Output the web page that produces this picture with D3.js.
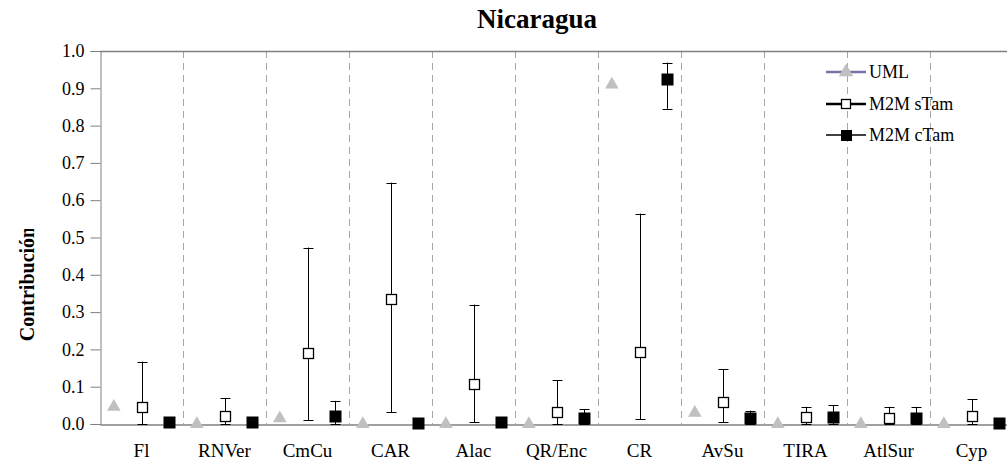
<!DOCTYPE html>
<html>
<head>
<meta charset="utf-8">
<script src="https://cdn.jsdelivr.net/npm/d3@7"></script>
<style>
    body { margin: 0; background: #fff; }
    svg { display: block; font-family: "Liberation Serif", "Times New Roman", serif; }
</style>
</head>
<body>
<div id="chart"></div>
<script>
// categories along the x axis
const categories = ["Fl", "RNVer", "CmCu", "CAR", "Alac", "QR/Enc", "CR", "AvSu", "TIRA", "AtlSur", "Cyp"];

// UML (triangles, no error bars)
const umlValues = [0.046, 0.0, 0.015, 0.0, 0.0, 0.0, 0.91, 0.03, 0.0, 0.0, 0.0];

// M2M sTam (open squares) value, lower and upper bar
const sTamValues = [0.045, 0.022, 0.19, 0.335, 0.106, 0.033, 0.192, 0.06, 0.018, 0.015, 0.022];
const sTamLow    = [0.0, 0.0, 0.01, 0.031, 0.005, 0.0, 0.013, 0.005, 0.0, 0.0, 0.0];
const sTamHigh   = [0.167, 0.069, 0.473, 0.647, 0.32, 0.118, 0.564, 0.147, 0.046, 0.046, 0.066];

// M2M cTam (filled squares) value, lower and upper bar
const cTamValues = [0.005, 0.005, 0.022, 0.002, 0.005, 0.015, 0.924, 0.017, 0.02, 0.015, 0.002];
const cTamLow    = [0.005, 0.005, 0.0, 0.002, 0.005, 0.0, 0.845, 0.0, 0.0, 0.0, 0.002];
const cTamHigh   = [0.005, 0.005, 0.062, 0.002, 0.008, 0.039, 0.969, 0.036, 0.05, 0.046, 0.002];

const yTicks = [0, 0.1, 0.2, 0.3, 0.4, 0.5, 0.6, 0.7, 0.8, 0.9, 1.0];
const seriesNames = ["UML", "M2M sTam", "M2M cTam"];

const W = 1007, H = 468;
const margin = { top: 51, left: 100, bottom: 44, right: -6 };

const svg = d3.select("#chart").
append("svg").
attr("width", W).
attr("height", H);

const x = d3.scaleBand().
domain(categories).
range([margin.left, W - margin.right]);

const y = d3.scaleLinear().
domain([0, 1]).
range([H - margin.bottom, margin.top]);

// offsets of the three series inside a category band
const pos = (i, k) => x(categories[i]) + x.bandwidth() * (2 * k + 1) / 6;

// title
svg.append("text").
attr("x", 537).
attr("y", 28).
attr("text-anchor", "middle").
style("font-size", "27px").
style("font-weight", "bold").
text("Nicaragua");

// dashed separators between categories
svg.append("g").
selectAll("line").
data(categories.slice(1)).
enter().
append("line").
attr("x1", d => Math.round(x(d)) + 0.5).
attr("x2", d => Math.round(x(d)) + 0.5).
attr("y1", y(1)).
attr("y2", y(0)).
attr("stroke", "#a6a6a6").
attr("stroke-width", 1).
attr("stroke-dasharray", "7,5");

// top frame line
svg.append("line").
attr("x1", margin.left).
attr("x2", W).
attr("y1", y(1) + 0.5).
attr("y2", y(1) + 0.5).
attr("stroke", "#808080").
attr("stroke-width", 1.5);

// y axis
const yAxis = svg.append("g").
attr("transform", "translate(" + (margin.left + 0.5) + ",0)").
call(d3.axisLeft(y).tickValues(yTicks).tickFormat(d3.format(".1f")).tickSizeOuter(0).tickSize(10).tickPadding(6));
yAxis.select(".domain").attr("stroke", "#808080");
yAxis.selectAll(".tick line").attr("stroke", "#808080");
yAxis.selectAll(".tick text").
style("font-size", "18px").
style("font-family", "Liberation Serif, serif").
attr("fill", "#000");

// x axis
const xAxis = svg.append("g").
attr("transform", "translate(0," + (y(0) + 0.5) + ")").
call(d3.axisBottom(x).tickSize(0).tickPadding(19));
xAxis.select(".domain").attr("stroke", "#808080").attr("stroke-width", 1.5);
xAxis.selectAll(".tick text").
style("font-size", "19px").
style("font-family", "Liberation Serif, serif").
attr("fill", "#000");

// y axis title, clipped at the top like in the original
svg.append("clipPath").
attr("id", "ylabclip").
append("rect").
attr("x", 0).
attr("y", 229).
attr("width", 60).
attr("height", 200);

svg.append("g").
attr("clip-path", "url(#ylabclip)").
append("text").
attr("transform", "translate(34," + 284 + ") rotate(-90)").
attr("text-anchor", "middle").
style("font-size", "20px").
style("font-weight", "bold").
text("Contribución");

// error bars
function drawBars(low, high, k) {
    const g = svg.append("g");
    categories.forEach((c, i) => {
        if (high[i] - low[i] < 0.002) return;
        const cx = Math.round(pos(i, k)) + 0.5;
        g.append("line").
        attr("x1", cx).attr("x2", cx).
        attr("y1", y(low[i])).attr("y2", y(high[i])).
        attr("stroke", "#000");
        [low[i], high[i]].forEach(v => {
            g.append("line").
            attr("x1", cx - 5).attr("x2", cx + 5).
            attr("y1", Math.round(y(v)) + 0.5).attr("y2", Math.round(y(v)) + 0.5).
            attr("stroke", "#000");
        });
    });
}
drawBars(sTamLow, sTamHigh, 1);
drawBars(cTamLow, cTamHigh, 2);

// UML triangles
svg.append("g").
selectAll("path").
data(umlValues).
enter().
append("path").
attr("d", d3.symbol().type(d3.symbolTriangle).size(80)).
attr("transform", (d, i) => "translate(" + pos(i, 0) + "," + y(d) + ")").
attr("fill", "#c0c0c0");

// open squares
svg.append("g").
selectAll("rect").
data(sTamValues).
enter().
append("rect").
attr("x", (d, i) => Math.round(pos(i, 1)) - 4.5).
attr("y", d => Math.round(y(d)) - 4.5).
attr("width", 10).
attr("height", 10).
attr("fill", "#fff").
attr("stroke", "#000").
attr("stroke-width", 1.3);

// filled squares
svg.append("g").
selectAll("rect").
data(cTamValues).
enter().
append("rect").
attr("x", (d, i) => Math.round(pos(i, 2)) - 5.5).
attr("y", d => Math.round(y(d)) - 5.5).
attr("width", 12).
attr("height", 12).
attr("fill", "#000");

// legend
const legend = svg.append("g");
const legendY = [72, 104, 135];
seriesNames.forEach((name, i) => {
    const ly = legendY[i];
    legend.append("line").
    attr("x1", 826).attr("x2", 866).
    attr("y1", ly).attr("y2", ly).
    attr("stroke", i === 0 ? "#7474a8" : "#000").
    attr("stroke-width", i === 2 ? 1.5 : 2.5);
    if (i === 0) {
        legend.append("path").
        attr("d", d3.symbol().type(d3.symbolTriangle).size(90)).
        attr("transform", "translate(846," + ly + ")").
        attr("fill", "#c0c0c0");
    } else if (i === 1) {
        legend.append("rect").
        attr("x", 841.5).attr("y", ly - 4.5).
        attr("width", 9).attr("height", 9).
        attr("fill", "#fff").attr("stroke", "#000").attr("stroke-width", 1.3);
    } else {
        legend.append("rect").
        attr("x", 841).attr("y", ly - 5).
        attr("width", 11).attr("height", 11).
        attr("fill", "#000");
    }
    legend.append("text").
    attr("x", 869).
    attr("y", ly + 6).
    style("font-size", "18px").
    text(name);
});
</script>
</body>
</html>
